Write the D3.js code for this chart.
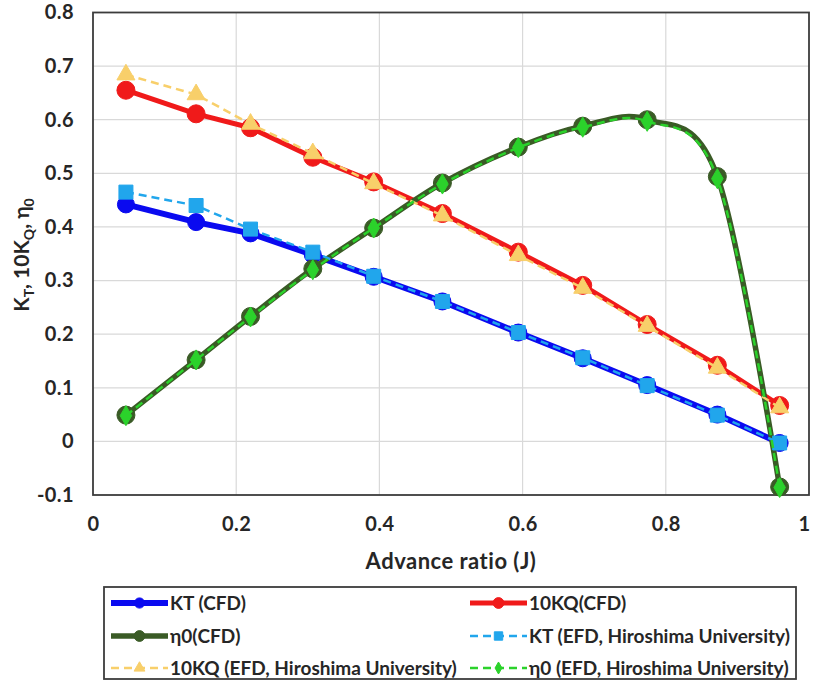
<!DOCTYPE html>
<html>
<head>
<meta charset="utf-8">
<script src="https://cdn.jsdelivr.net/npm/d3@7"></script>
<style>
  body { margin: 0; background: #fff; }
  svg { display: block; font-family: Lato, "Open Sans", sans-serif; font-weight: bold; }
</style>
</head>
<body>
<svg id="chart"></svg>
<script>
// advance ratio J
var J = [0.046, 0.144, 0.22, 0.307, 0.392, 0.488, 0.594, 0.684, 0.774, 0.872, 0.959];

var ktCfd  = [0.442, 0.409, 0.388, 0.348, 0.307, 0.261, 0.203, 0.155, 0.105, 0.050, -0.003];
var kqCfd  = [0.655, 0.611, 0.585, 0.530, 0.484, 0.425, 0.353, 0.291, 0.218, 0.142, 0.067];
var etaCfd = [0.049, 0.152, 0.233, 0.322, 0.398, 0.482, 0.549, 0.588, 0.600, 0.494, -0.085];
var ktEfd  = [0.465, 0.440, 0.396, 0.353, 0.308, 0.261, 0.203, 0.156, 0.104, 0.049, -0.003];
var kqEfd  = [0.684, 0.647, 0.592, 0.537, 0.481, 0.421, 0.347, 0.286, 0.215, 0.137, 0.063];
var etaEfd = [0.048, 0.152, 0.232, 0.320, 0.398, 0.480, 0.548, 0.586, 0.597, 0.490, -0.086];

var xTicks = [0, 0.2, 0.4, 0.6, 0.8, 1];
var yTicks = [-0.1, 0, 0.1, 0.2, 0.3, 0.4, 0.5, 0.6, 0.7, 0.8];

var width = 813;
var height = 688;
var margin = {left: 93, right: 4, top: 12.5, bottom: 193};

var svg = d3.select("#chart")
    .attr("width", width)
    .attr("height", height);

var xScale = d3.scaleLinear()
    .domain([0, 1])
    .range([margin.left, width - margin.right]);
var yScale = d3.scaleLinear()
    .domain([-0.1, 0.8])
    .range([height - margin.bottom, margin.top]);

// series: order matters for drawing (CFD first, EFD on top)
var series = [
    {name: "KT (CFD)", values: ktCfd, color: "#0a0af0", width: 6, dash: null, marker: "circle", r: 8.5, smooth: false},
    {name: "10KQ(CFD)", values: kqCfd, color: "#f01a1a", width: 5, dash: null, marker: "circle", r: 9, smooth: false},
    {name: "\u03b70(CFD)", values: etaCfd, color: "#3a5b26", width: 5.5, dash: null, marker: "circle", r: 9, smooth: true},
    {name: "KT (EFD, Hiroshima University)", values: ktEfd, color: "#21a6ec", width: 2.5, dash: "8,5", marker: "square", r: 7, smooth: false},
    {name: "10KQ (EFD, Hiroshima University)", values: kqEfd, color: "#f8cf6a", width: 2.5, dash: "8,5", marker: "triangle", r: 8, smooth: false},
    {name: "\u03b70 (EFD, Hiroshima University)", values: etaEfd, color: "#2bd22b", width: 2.5, dash: "8,5", marker: "diamond", r: 8.5, smooth: true}
];

// grid
svg.append("g")
    .selectAll("line")
    .data(xTicks.slice(1, -1))
    .enter()
    .append("line")
    .attr("x1", function (d) { return xScale(d); })
    .attr("x2", function (d) { return xScale(d); })
    .attr("y1", yScale(-0.1))
    .attr("y2", yScale(0.8))
    .attr("stroke", "#d9d9d9")
    .attr("stroke-width", 1.2);
svg.append("g")
    .selectAll("line")
    .data(yTicks.slice(1, -1))
    .enter()
    .append("line")
    .attr("x1", xScale(0))
    .attr("x2", xScale(1))
    .attr("y1", function (d) { return yScale(d); })
    .attr("y2", function (d) { return yScale(d); })
    .attr("stroke", "#d9d9d9")
    .attr("stroke-width", 1.2);

// axes (labels only, border drawn as a rect)
var fmt = function (d) {
    if (d === 0 || d === 1) return String(d);
    return (d < 0 ? "-" : "") + d3.format(".1f")(Math.abs(d));
};
var xAxis = d3.axisBottom(xScale)
    .tickValues(xTicks)
    .tickSize(0)
    .tickPadding(22)
    .tickFormat(fmt);
var yAxis = d3.axisLeft(yScale)
    .tickValues(yTicks)
    .tickSize(0)
    .tickPadding(19)
    .tickFormat(fmt);

var gx = svg.append("g")
    .attr("transform", "translate(0," + yScale(-0.1) + ")")
    .call(xAxis);
var gy = svg.append("g")
    .attr("transform", "translate(" + xScale(0) + ",0)")
    .call(yAxis);
[gx, gy].forEach(function (g) {
    g.select(".domain").remove();
    g.selectAll("text")
        .attr("font-family", "Lato, 'Open Sans', sans-serif")
        .attr("font-weight", "bold")
        .attr("font-size", 20)
        .attr("letter-spacing", 0.4)
        .attr("fill", "#262626");
});
// keep the "1" inside the window
gx.selectAll(".tick")
    .filter(function (d) { return d === 1; })
    .select("text")
    .attr("x", -5);

// plot border
svg.append("rect")
    .attr("x", xScale(0))
    .attr("y", yScale(0.8))
    .attr("width", xScale(1) - xScale(0))
    .attr("height", yScale(-0.1) - yScale(0.8))
    .attr("fill", "none")
    .attr("stroke", "#3c3c3c")
    .attr("stroke-width", 1.8);

// axis titles
svg.append("text")
    .attr("x", 451)
    .attr("y", 569)
    .attr("text-anchor", "middle")
    .attr("font-size", 22)
    .attr("letter-spacing", 0.5)
    .attr("fill", "#262626")
    .text("Advance ratio (J)");

var yt = svg.append("text")
    .attr("transform", "translate(29," + 255 + ") rotate(-90)")
    .attr("text-anchor", "middle")
    .attr("font-size", 21)
    .attr("fill", "#262626");
yt.append("tspan").text("K");
yt.append("tspan").attr("font-size", 14).attr("dy", 5).text("T");
yt.append("tspan").attr("dy", -5).text(", 10K");
yt.append("tspan").attr("font-size", 14).attr("dy", 5).text("Q");
yt.append("tspan").attr("dy", -5).text(", \u03b7");
yt.append("tspan").attr("font-size", 14).attr("dy", 5).text("0");

function markerPath(type, r) {
    if (type === "circle") return d3.symbol().type(d3.symbolCircle).size(Math.PI * r * r)();
    if (type === "square") return d3.symbol().type(d3.symbolSquare).size(4 * r * r)();
    if (type === "triangle") return d3.symbol().type(d3.symbolTriangle).size(2.2 * r * r)();
    return d3.symbol().type(d3.symbolDiamond).size(1.6 * r * r)();
}

var plot = svg.append("g");

series.forEach(function (s) {
    var pts = J.map(function (j, i) { return [j, s.values[i]]; });
    var line = d3.line()
        .x(function (d) { return xScale(d[0]); })
        .y(function (d) { return yScale(d[1]); })
        .curve(s.smooth ? d3.curveCatmullRom.alpha(0) : d3.curveLinear);
    var g = plot.append("g");
    g.append("path")
        .attr("d", line(pts))
        .attr("fill", "none")
        .attr("stroke", s.color)
        .attr("stroke-width", s.width)
        .attr("stroke-dasharray", s.dash)
        .attr("stroke-linejoin", "round");
    g.selectAll("path.m")
        .data(pts)
        .enter()
        .append("path")
        .attr("class", "m")
        .attr("d", markerPath(s.marker, s.r))
        .attr("transform", function (d) { return "translate(" + xScale(d[0]) + "," + yScale(d[1]) + ")"; })
        .attr("fill", s.color)
        .attr("stroke", s.color)
        .attr("stroke-width", 1);
});

// legend
var legend = svg.append("g");
legend.append("rect")
    .attr("x", 104)
    .attr("y", 587)
    .attr("width", 692)
    .attr("height", 92)
    .attr("fill", "#fff")
    .attr("stroke", "#3c3c3c")
    .attr("stroke-width", 1.8);

var colX = [111, 470];
var rowY = [603, 636, 668];
series.forEach(function (s, i) {
    var x0 = colX[i % 2];
    var y0 = rowY[Math.floor(i / 2)];
    var g = legend.append("g").attr("transform", "translate(" + x0 + "," + y0 + ")");
    g.append("line")
        .attr("x1", 0)
        .attr("x2", 57)
        .attr("y1", 0)
        .attr("y2", 0)
        .attr("stroke", s.color)
        .attr("stroke-width", s.width)
        .attr("stroke-dasharray", s.dash);
    g.append("path")
        .attr("d", markerPath(s.marker, s.r * 0.6))
        .attr("transform", "translate(28.5,0)")
        .attr("fill", s.color)
        .attr("stroke", s.color);
    g.append("text")
        .attr("x", 59)
        .attr("y", 0)
        .attr("dy", "0.35em")
        .attr("font-size", 19)
        .attr("fill", "#262626")
        .text(s.name);
});
</script>
</body>
</html>
